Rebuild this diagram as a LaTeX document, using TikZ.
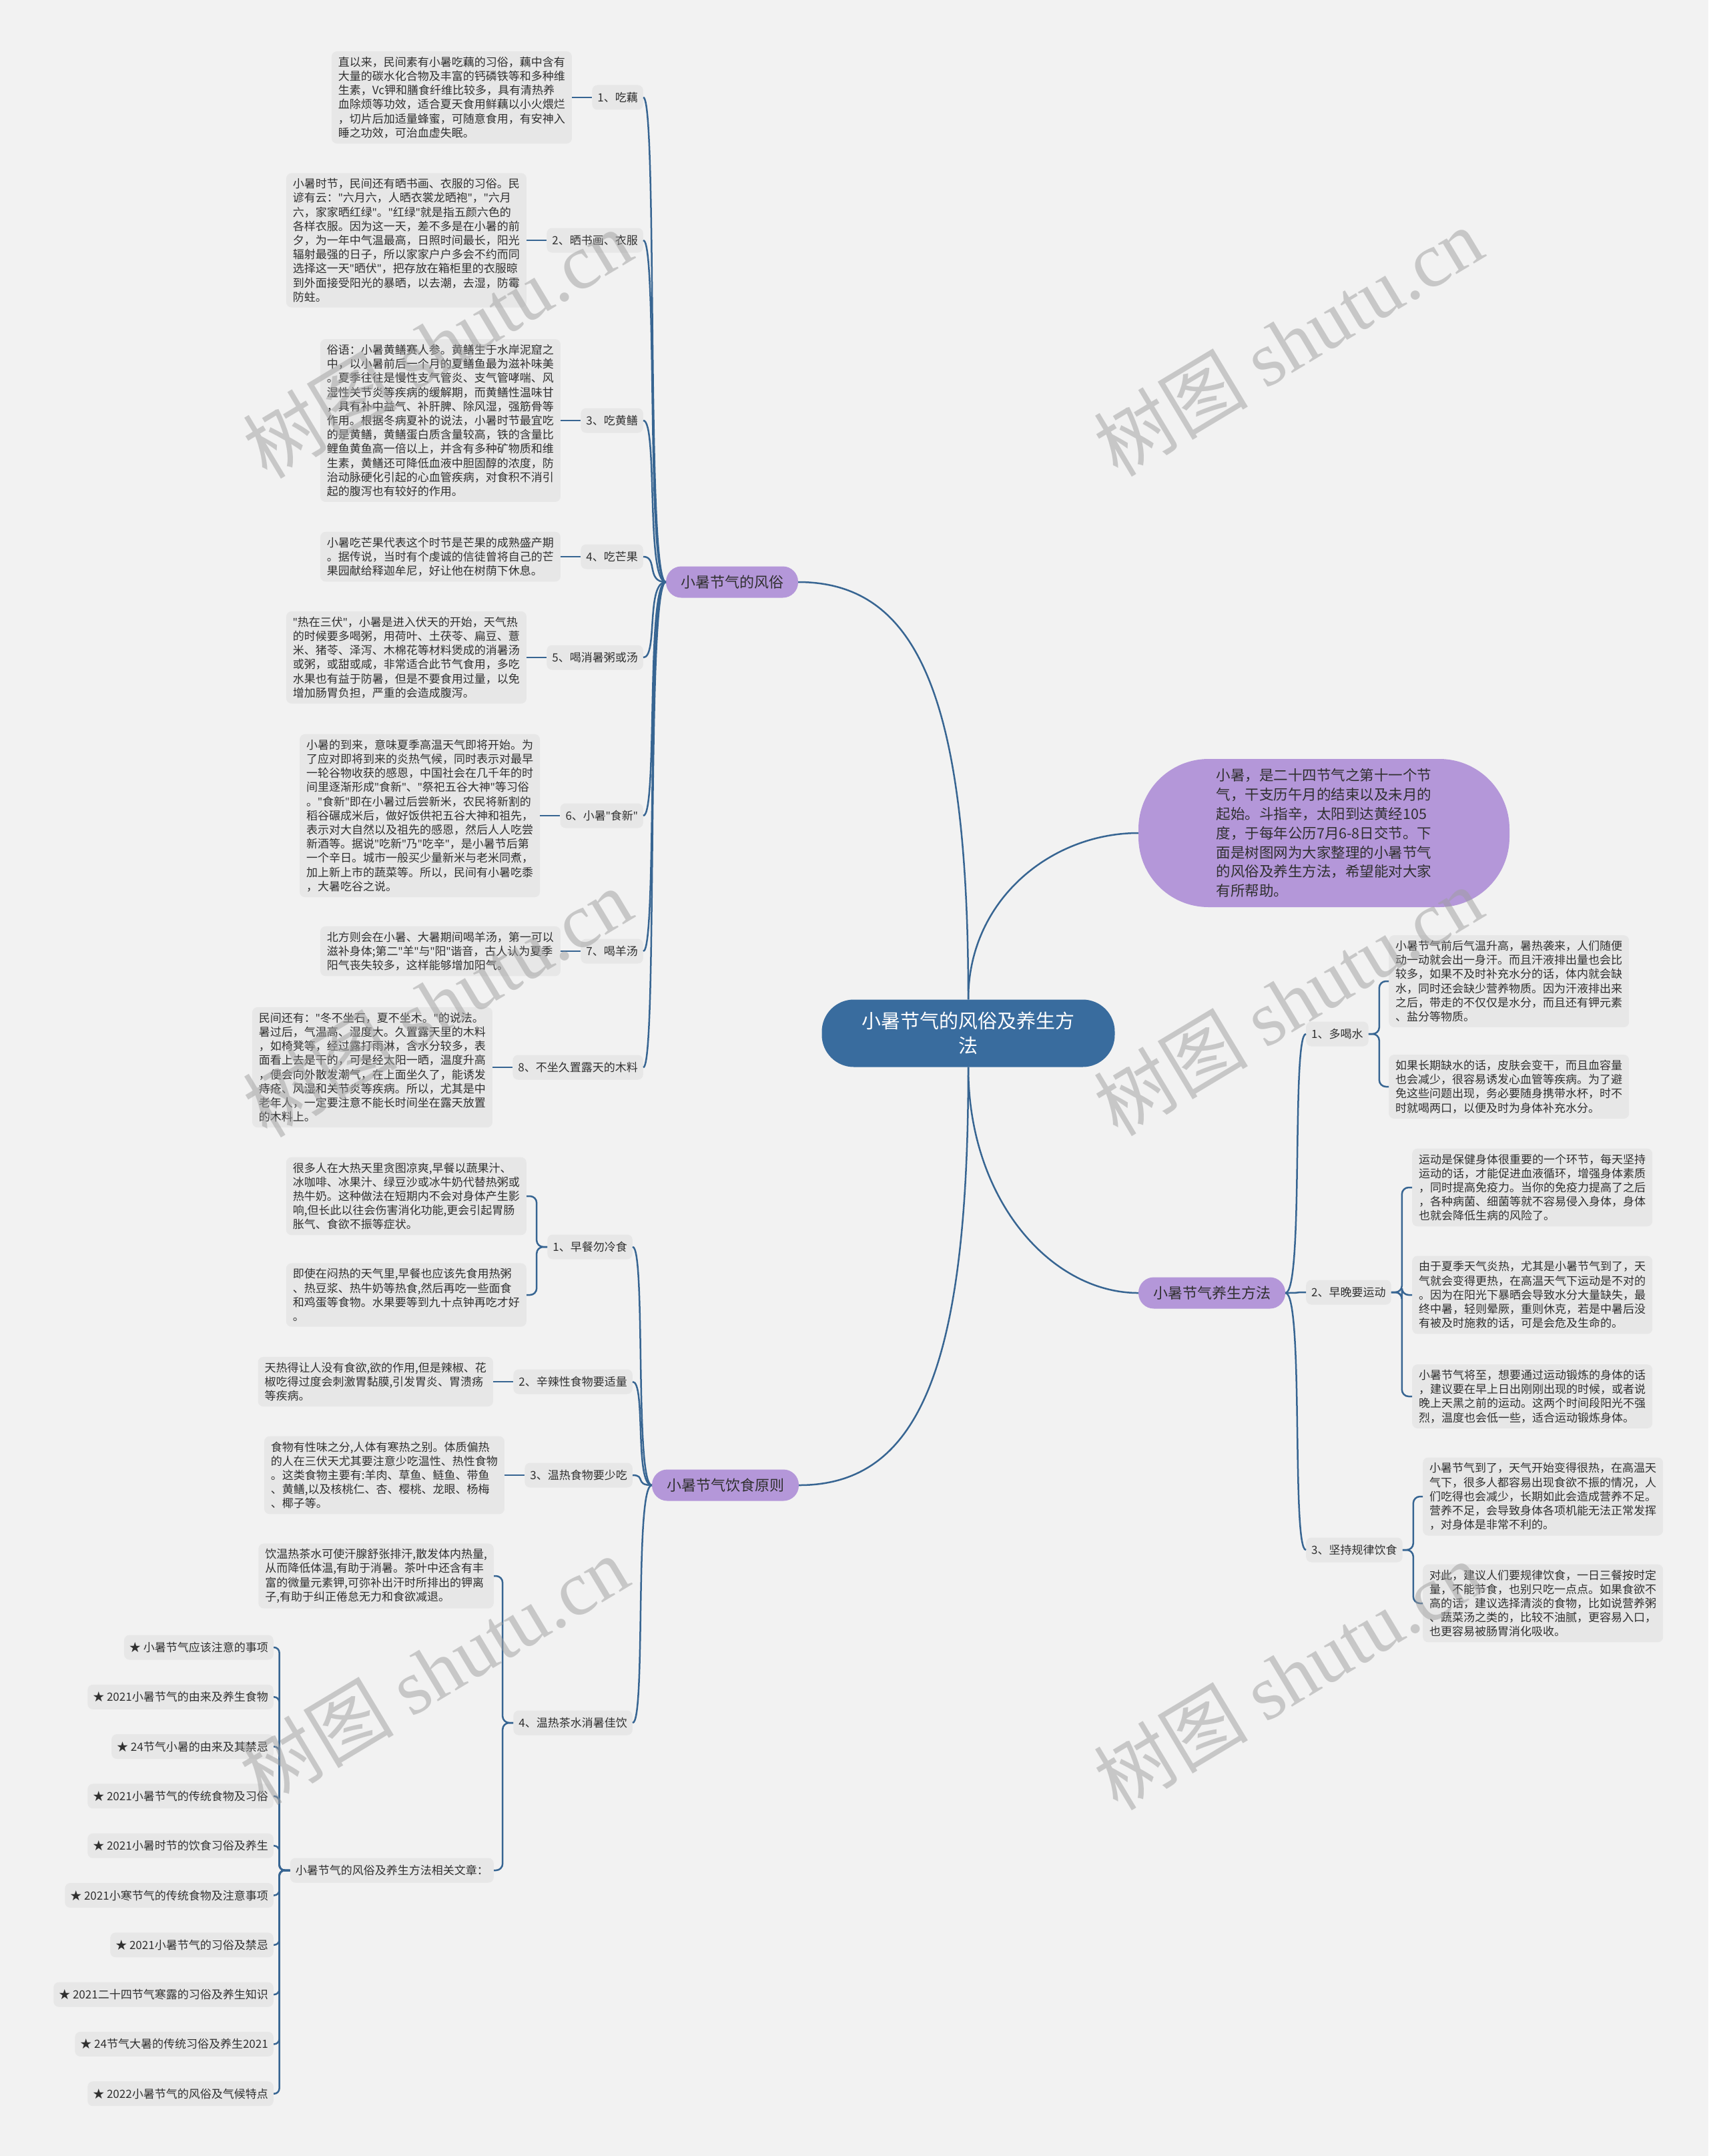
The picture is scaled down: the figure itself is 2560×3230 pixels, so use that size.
\documentclass[tikz,border=0pt]{standalone}
\usepackage{fontspec}
\setmainfont{Noto Sans CJK SC}
\newfontfamily\latinserif{Liberation Serif}
\newfontfamily\latinsans{Noto Sans}
\newcommand{\dq}{{\latinsans"}}
\usepackage{tikz}
\usepackage{xcolor}
\definecolor{bgcol}{RGB}{242,242,242}
\definecolor{boxcol}{RGB}{231,231,231}
\definecolor{linecol}{RGB}{55,101,146}
\definecolor{rootcol}{RGB}{57,108,158}
\definecolor{purple1}{RGB}{180,151,217}
\definecolor{textcol}{RGB}{48,48,48}

\begin{document}
\begin{tikzpicture}[x=1pt,y=1pt,
	txt/.style={fill=boxcol,rounded corners=8pt,align=left,text=textcol,inner xsep=10pt,inner ysep=8pt,font=\fontsize{17}{21.2}\selectfont},
	item/.style={fill=boxcol,rounded corners=8pt,text=textcol,inner xsep=8pt,inner ysep=0pt,minimum height=37pt,font=\fontsize{17}{21.2}\selectfont},
	topic/.style={fill=purple1,rounded corners=23pt,text=textcol,inner xsep=22pt,inner ysep=0pt,minimum height=47pt,font=\fontsize{22}{26}\selectfont},
	link/.style={draw=linecol,line width=2.5pt},
	wm/.style={text=black!38,text opacity=0.5,rotate=31,font=\fontsize{116}{120}\selectfont}]
	\fill[bgcol] (0,0) rectangle (2560,-3230);
	\useasboundingbox (0,0) rectangle (2560,-3230);

	\node[fill=rootcol,text=white,rounded corners=48pt,minimum width=439pt,minimum height=101pt,align=center,font=\fontsize{29}{37}\selectfont] (root) at (1451,-1548) {小暑节气的风俗及养生方\\法};
	\node[fill=purple1,text=textcol,rounded corners=105pt,minimum width=556pt,minimum height=222pt,align=left,font=\fontsize{21.5}{28.8}\selectfont] (intro) at (1984,-1248) {小暑，是二十四节气之第十一个节\\气，干支历午月的结束以及未月的\\起始。斗指辛，太阳到达黄经105\\度，于每年公历7月6-8日交节。下\\面是树图网为大家整理的小暑节气\\的风俗及养生方法，希望能对大家\\有所帮助。};

	\node[topic] (custom) at (1097,-872) {小暑节气的风俗};
	\node[topic] (health) at (1816,-1937) {小暑节气养生方法};
	\node[topic] (diet) at (1087,-2225) {小暑节气饮食原则};

	\draw[link] (root.north) .. controls +(0,450) and +(180,0) .. (custom.east);
	\draw[link] (root.north) .. controls +(0,150) and +(-130,0) .. (intro.west);
	\draw[link] (root.south) .. controls +(0,-450) and +(180,0) .. (diet.east);
	\draw[link] (root.south) .. controls +(0,-200) and +(-130,0) .. (health.west);

	\node[item,anchor=east] (a1) at (964,-146) {1、吃藕};
	\node[item,anchor=east] (a2) at (964,-360) {2、晒书画、衣服};
	\node[item,anchor=east] (a3) at (964,-630) {3、吃黄鳝};
	\node[item,anchor=east] (a4) at (964,-834) {4、吃芒果};
	\node[item,anchor=east] (a5) at (964,-985) {5、喝消暑粥或汤};
	\node[item,anchor=east] (a6) at (964,-1222) {6、小暑\dq 食新\dq};
	\node[item,anchor=east] (a7) at (964,-1425) {7、喝羊汤};
	\node[item,anchor=east] (a8) at (964,-1599) {8、不坐久置露天的木料};

	\node[txt,anchor=east] (a1t) at ([xshift=-30pt]a1.west) {直以来，民间素有小暑吃藕的习俗，藕中含有\\大量的碳水化合物及丰富的钙磷铁等和多种维\\生素，Vc钾和膳食纤维比较多，具有清热养\\血除烦等功效，适合夏天食用鲜藕以小火煨烂\\，切片后加适量蜂蜜，可随意食用，有安神入\\睡之功效，可治血虚失眠。};
	\node[txt,anchor=east] (a2t) at ([xshift=-30pt]a2.west) {小暑时节，民间还有晒书画、衣服的习俗。民\\谚有云：\dq 六月六，人晒衣裳龙晒袍\dq，\dq 六月\\六，家家晒红绿\dq。\dq 红绿\dq 就是指五颜六色的\\各样衣服。因为这一天，差不多是在小暑的前\\夕，为一年中气温最高，日照时间最长，阳光\\辐射最强的日子，所以家家户户多会不约而同\\选择这一天\dq 晒伏\dq，把存放在箱柜里的衣服晾\\到外面接受阳光的暴晒，以去潮，去湿，防霉\\防蛀。};
	\node[txt,anchor=east] (a3t) at ([xshift=-30pt]a3.west) {俗语：小暑黄鳝赛人参。黄鳝生于水岸泥窟之\\中，以小暑前后一个月的夏鳝鱼最为滋补味美\\。夏季往往是慢性支气管炎、支气管哮喘、风\\湿性关节炎等疾病的缓解期，而黄鳝性温味甘\\，具有补中益气、补肝脾、除风湿，强筋骨等\\作用。根据冬病夏补的说法，小暑时节最宜吃\\的是黄鳝，黄鳝蛋白质含量较高，铁的含量比\\鲤鱼黄鱼高一倍以上，并含有多种矿物质和维\\生素，黄鳝还可降低血液中胆固醇的浓度，防\\治动脉硬化引起的心血管疾病，对食积不消引\\起的腹泻也有较好的作用。};
	\node[txt,anchor=east] (a4t) at ([xshift=-30pt]a4.west) {小暑吃芒果代表这个时节是芒果的成熟盛产期\\。据传说，当时有个虔诚的信徒曾将自己的芒\\果园献给释迦牟尼，好让他在树荫下休息。};
	\node[txt,anchor=east] (a5t) at ([xshift=-30pt]a5.west) {\dq 热在三伏\dq，小暑是进入伏天的开始，天气热\\的时候要多喝粥，用荷叶、土茯苓、扁豆、薏\\米、猪苓、泽泻、木棉花等材料煲成的消暑汤\\或粥，或甜或咸，非常适合此节气食用，多吃\\水果也有益于防暑，但是不要食用过量，以免\\增加肠胃负担，严重的会造成腹泻。};
	\node[txt,anchor=east] (a6t) at ([xshift=-30pt]a6.west) {小暑的到来，意味夏季高温天气即将开始。为\\了应对即将到来的炎热气候，同时表示对最早\\一轮谷物收获的感恩，中国社会在几千年的时\\间里逐渐形成\dq 食新\dq、\dq 祭祀五谷大神\dq 等习俗\\。\dq 食新\dq 即在小暑过后尝新米，农民将新割的\\稻谷碾成米后，做好饭供祀五谷大神和祖先，\\表示对大自然以及祖先的感恩，然后人人吃尝\\新酒等。据说\dq 吃新\dq 乃\dq 吃辛\dq，是小暑节后第\\一个辛日。城市一般买少量新米与老米同煮，\\加上新上市的蔬菜等。所以，民间有小暑吃黍\\，大暑吃谷之说。};
	\node[txt,anchor=east] (a7t) at ([xshift=-30pt]a7.west) {北方则会在小暑、大暑期间喝羊汤，第一可以\\滋补身体;第二\dq 羊\dq 与\dq 阳\dq 谐音，古人认为夏季\\阳气丧失较多，这样能够增加阳气。};
	\node[txt,anchor=east] (a8t) at ([xshift=-30pt]a8.west) {民间还有：\dq 冬不坐石，夏不坐木。\dq 的说法。\\暑过后，气温高、湿度大。久置露天里的木料\\，如椅凳等，经过露打雨淋，含水分较多，表\\面看上去是干的，可是经太阳一晒，温度升高\\，便会向外散发潮气，在上面坐久了，能诱发\\痔疮、风湿和关节炎等疾病。所以，尤其是中\\老年人，一定要注意不能长时间坐在露天放置\\的木料上。};

	\foreach \n in {a1,a2,a3,a4,a5,a6,a7,a8} {
		\draw[link] (custom.west) .. controls +(-30,0) and +(22,0) .. (\n.east);
		\draw[link] (\n t.east) -- (\n.west);
	}

	\node[item,anchor=east] (b1) at (948,-1868) {1、早餐勿冷食};
	\node[item,anchor=east] (b2) at (948,-2070) {2、辛辣性食物要适量};
	\node[item,anchor=east] (b3) at (948,-2210) {3、温热食物要少吃};
	\node[item,anchor=east] (b4) at (948,-2581) {4、温热茶水消暑佳饮};

	\node[txt,anchor=east] (b1t1) at (789,-1792) {很多人在大热天里贪图凉爽,早餐以蔬果汁、\\冰咖啡、冰果汁、绿豆沙或冰牛奶代替热粥或\\热牛奶。这种做法在短期内不会对身体产生影\\响,但长此以往会伤害消化功能,更会引起胃肠\\胀气、食欲不振等症状。};
	\node[txt,anchor=east] (b1t2) at (789,-1940) {即使在闷热的天气里,早餐也应该先食用热粥\\、热豆浆、热牛奶等热食,然后再吃一些面食\\和鸡蛋等食物。水果要等到九十点钟再吃才好\\。};
	\node[txt,anchor=east] (b2t) at ([xshift=-30pt]b2.west) {天热得让人没有食欲,欲的作用,但是辣椒、花\\椒吃得过度会刺激胃黏膜,引发胃炎、胃溃疡\\等疾病。};
	\node[txt,anchor=east] (b3t) at ([xshift=-30pt]b3.west) {食物有性味之分,人体有寒热之别。体质偏热\\的人在三伏天尤其要注意少吃温性、热性食物\\。这类食物主要有:羊肉、草鱼、鲢鱼、带鱼\\、黄鳝,以及核桃仁、杏、樱桃、龙眼、杨梅\\、椰子等。};
	\node[txt,anchor=east] (b4t) at (740,-2361) {饮温热茶水可使汗腺舒张排汗,散发体内热量,\\从而降低体温,有助于消暑。茶叶中还含有丰\\富的微量元素钾,可弥补出汗时所排出的钾离\\子,有助于纠正倦怠无力和食欲减退。};
	\node[item,anchor=east] (rel) at (740,-2802) {小暑节气的风俗及养生方法相关文章：};

	\foreach \n in {b1,b2,b3,b4}
		\draw[link] (diet.west) .. controls +(-26,0) and +(20,0) .. (\n.east);
	\draw[link,rounded corners=10pt] (b1.west) -- ++(-16,0) |- (b1t1.east);
	\draw[link,rounded corners=10pt] (b1.west) -- ++(-16,0) |- (b1t2.east);
	\draw[link] (b2t.east) -- (b2.west);
	\draw[link] (b3t.east) -- (b3.west);
	\draw[link,rounded corners=10pt] (b4.west) -- ++(-16,0) |- (b4t.east);
	\draw[link,rounded corners=10pt] (b4.west) -- ++(-16,0) |- (rel.east);

	\foreach \t [count=\i] in {小暑节气应该注意的事项,2021小暑节气的由来及养生食物,24节气小暑的由来及其禁忌,2021小暑节气的传统食物及习俗,2021小暑时节的饮食习俗及养生,2021小寒节气的传统食物及注意事项,2021小暑节气的习俗及禁忌,2021二十四节气寒露的习俗及养生知识,24节气大暑的传统习俗及养生2021,2022小暑节气的风俗及气候特点} {
		\node[item,anchor=east] (s\i) at (410,{-2468-74.3*(\i-1)}) {★ \t};
		\draw[link,rounded corners=8pt] (rel.west) -- ++(-16,0) |- (s\i.east);
	}

	\node[item,anchor=west] (c1) at (1957,-1549) {1、多喝水};
	\node[item,anchor=west] (c2) at (1957,-1936) {2、早晚要运动};
	\node[item,anchor=west] (c3) at (1957,-2322) {3、坚持规律饮食};

	\node[txt,anchor=west] (c1t1) at (2081,-1470) {小暑节气前后气温升高，暑热袭来，人们随便\\动一动就会出一身汗。而且汗液排出量也会比\\较多，如果不及时补充水分的话，体内就会缺\\水，同时还会缺少营养物质。因为汗液排出来\\之后，带走的不仅仅是水分，而且还有钾元素\\、盐分等物质。};
	\node[txt,anchor=west] (c1t2) at (2081,-1628) {如果长期缺水的话，皮肤会变干，而且血容量\\也会减少，很容易诱发心血管等疾病。为了避\\免这些问题出现，务必要随身携带水杯，时不\\时就喝两口，以便及时为身体补充水分。};
	\node[txt,anchor=west] (c2t1) at (2116,-1779) {运动是保健身体很重要的一个环节，每天坚持\\运动的话，才能促进血液循环，增强身体素质\\，同时提高免疫力。当你的免疫力提高了之后\\，各种病菌、细菌等就不容易侵入身体，身体\\也就会降低生病的风险了。};
	\node[txt,anchor=west] (c2t2) at (2116,-1940) {由于夏季天气炎热，尤其是小暑节气到了，天\\气就会变得更热，在高温天气下运动是不对的\\。因为在阳光下暴晒会导致水分大量缺失，最\\终中暑，轻则晕厥，重则休克，若是中暑后没\\有被及时施救的话，可是会危及生命的。};
	\node[txt,anchor=west] (c2t3) at (2116,-2092) {小暑节气将至，想要通过运动锻炼的身体的话\\，建议要在早上日出刚刚出现的时候，或者说\\晚上天黑之前的运动。这两个时间段阳光不强\\烈，温度也会低一些，适合运动锻炼身体。};
	\node[txt,anchor=west] (c3t1) at (2132,-2242) {小暑节气到了，天气开始变得很热，在高温天\\气下，很多人都容易出现食欲不振的情况，人\\们吃得也会减少，长期如此会造成营养不足。\\营养不足，会导致身体各项机能无法正常发挥\\，对身体是非常不利的。};
	\node[txt,anchor=west] (c3t2) at (2132,-2402) {对此，建议人们要规律饮食，一日三餐按时定\\量，不能节食，也别只吃一点点。如果食欲不\\高的话，建议选择清淡的食物，比如说营养粥\\、蔬菜汤之类的，比较不油腻，更容易入口，\\也更容易被肠胃消化吸收。};

	\foreach \n in {c1,c2,c3}
		\draw[link] (health.east) .. controls +(28,0) and +(-22,0) .. (\n.west);
	\draw[link,rounded corners=10pt] (c1.east) -- ++(16,0) |- (c1t1.west);
	\draw[link,rounded corners=10pt] (c1.east) -- ++(16,0) |- (c1t2.west);
	\draw[link,rounded corners=10pt] (c2.east) -- ++(16,0) |- (c2t1.west);
	\draw[link,rounded corners=10pt] (c2.east) -- ++(16,0) |- (c2t2.west);
	\draw[link,rounded corners=10pt] (c2.east) -- ++(16,0) |- (c2t3.west);
	\draw[link,rounded corners=10pt] (c3.east) -- ++(16,0) |- (c3t1.west);
	\draw[link,rounded corners=10pt] (c3.east) -- ++(16,0) |- (c3t2.west);

	\node[wm] (w1) at (655,-515) {树图 {\latinserif shutu.cn}};
	\node[wm] (w2) at (1930,-512) {树图 {\latinserif shutu.cn}};
	\node[wm] (w3) at (655,-1502) {树图 {\latinserif shutu.cn}};
	\node[wm] (w4) at (1930,-1500) {树图 {\latinserif shutu.cn}};
	\node[wm] (w5) at (650,-2502) {树图 {\latinserif shutu.cn}};
	\node[wm] (w6) at (1930,-2510) {树图 {\latinserif shutu.cn}};
\end{tikzpicture}
\end{document}
